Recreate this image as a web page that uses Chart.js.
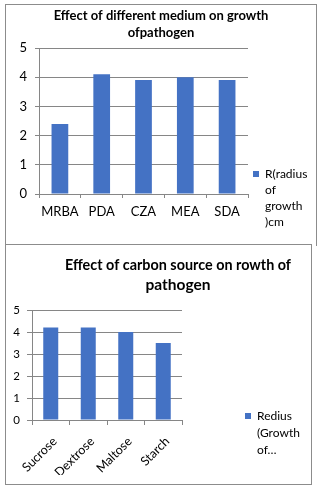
<!DOCTYPE html>
<html>
<head>
<meta charset="utf-8">
<script src="https://cdn.jsdelivr.net/npm/chart.js@4/dist/chart.umd.min.js"></script>
<style>
  html, body { margin: 0; padding: 0; background: #fff; }
  body { position: relative; width: 325px; height: 489px; overflow: hidden; }
  .frame { position: absolute; border: 1px solid #8c8c8c; box-sizing: border-box; }
  canvas { position: absolute; }
</style>
</head>
<body>
<div class="frame" style="left:5px;top:4px;width:312px;height:242px;border-bottom:none;"></div>
<div class="frame" style="left:5px;top:244px;width:307px;height:241px;"></div>
<canvas id="medium" width="310" height="239" style="left:6px;top:5px;"></canvas>
<canvas id="carbon" width="310" height="238" style="left:6px;top:245px;"></canvas>
<script>
// Growth radius of the pathogen on different culture media
const mediumCategories = ['MRBA', 'PDA', 'CZA', 'MEA', 'SDA'];
const mediumRadius = [2.4, 4.1, 3.9, 4.0, 3.9];
const mediumLegend = ['R(radius', 'of', 'growth', ')cm'];
const mediumTitle = ['Effect of different medium on growth', 'ofpathogen'];

// Growth radius of the pathogen with different carbon sources
const carbonCategories = ['Sucrose', 'Dextrose', 'Maltose', 'Starch'];
const carbonRadius = [4.2, 4.2, 4.0, 3.5];
const carbonLegend = ['Redius', '(Growth', 'of…'];
const carbonTitle = ['Effect of carbon source on rowth of', 'pathogen'];

// Shared value axis ticks
const yTickValues = [0, 1, 2, 3, 4, 5];

const BAR = '#4472c4';
const GRID = '#868686';
const INK = '#000000';
const FONT = 'Lato';

// Nudges the title and pins the legend next to the plot area after layout
const placeBlocks = {
  id: 'placeBlocks',
  afterLayout(chart, args, opts) {
    const area = chart.chartArea;
    const t = chart.titleBlock;
    if (t && opts.titleDx) { t.left += opts.titleDx; t.right += opts.titleDx; }
    const lg = chart.legend;
    if (lg) {
      lg.left = area.right + (opts.legendGap || 0);
      lg.right = chart.width;
      lg.bottom = area.bottom + (opts.legendDrop || 0);
    }
  }
};

function legendFrom(lines) {
  return chart => {
    const items = Chart.defaults.plugins.legend.labels.generateLabels(chart);
    items.forEach(it => { it.text = lines; it.lineWidth = 0; });
    return items;
  };
}

function barChart(id, cfg) {
  return new Chart(document.getElementById(id), {
    type: 'bar',
    data: {
      labels: cfg.categories,
      datasets: [{
        label: cfg.legend.join(' '),
        data: cfg.values,
        backgroundColor: BAR,
        borderWidth: 0,
        barPercentage: 0.4,
        categoryPercentage: 1.0
      }]
    },
    plugins: [placeBlocks],
    options: {
      responsive: false,
      animation: false,
      events: [],
      layout: { padding: cfg.padding },
      plugins: {
        placeBlocks: { titleDx: cfg.titleDx, legendGap: cfg.legendGap, legendDrop: cfg.legendDrop },
        tooltip: { enabled: false },
        title: {
          display: true,
          text: cfg.title,
          color: INK,
          font: { family: FONT, size: cfg.titleSize, weight: 'bold', lineHeight: cfg.titleLine },
          padding: cfg.titlePad
        },
        legend: {
          position: 'right',
          align: 'end',
          fullSize: true,
          maxWidth: cfg.legendWidth,
          labels: {
            boxWidth: cfg.box,
            boxHeight: cfg.box,
            padding: 0,
            color: INK,
            font: { family: FONT, size: 12, lineHeight: cfg.legendLine },
            generateLabels: legendFrom(cfg.legend)
          }
        }
      },
      scales: {
        x: {
          offset: true,
          grid: { display: true, drawOnChartArea: false, drawTicks: true, tickLength: cfg.tick, color: GRID, offset: true },
          border: { display: true, color: GRID, width: 1 },
          ticks: {
            color: INK,
            font: { family: FONT, size: cfg.xFont },
            padding: cfg.xPad,
            labelOffset: cfg.xShift || 0,
            autoSkip: false,
            minRotation: cfg.rotation,
            maxRotation: cfg.rotation
          },
          afterFit(scale) { scale.height = cfg.xHeight; }
        },
        y: {
          min: 0,
          max: 5,
          grid: { color: GRID, tickLength: cfg.tick, lineWidth: 1 },
          border: { display: true, color: GRID, width: 1 },
          afterBuildTicks(scale) { scale.ticks = yTickValues.map(v => ({ value: v })); },
          ticks: { color: INK, font: { family: FONT, size: cfg.yFont }, padding: cfg.yPad },
          afterFit(scale) { scale.width = cfg.yWidth; }
        }
      }
    }
  });
}

barChart('medium', {
  categories: mediumCategories,
  values: mediumRadius,
  legend: mediumLegend,
  title: mediumTitle,
  titleSize: 13,
  titleLine: '17px',
  titlePad: { top: 2.5, bottom: 6.5 },
  titleDx: 4,
  padding: { top: 0, left: 0, right: 8, bottom: 12 },
  legendWidth: 60,
  legendGap: 5,
  legendDrop: 38,
  legendLine: '16px',
  box: 6,
  tick: 4,
  xFont: 13,
  xPad: 6,
  rotation: 0,
  xHeight: 38,
  yFont: 13,
  yPad: 8,
  yWidth: 33
});

barChart('carbon', {
  categories: carbonCategories,
  values: carbonRadius,
  legend: carbonLegend,
  title: carbonTitle,
  titleSize: 15.5,
  titleLine: '20px',
  titlePad: { top: 10, bottom: 15 },
  titleDx: 59,
  padding: { top: 0, left: 0, right: 84, bottom: 8 },
  legendWidth: 50,
  legendGap: 63,
  legendDrop: 41,
  legendLine: '17px',
  box: 6,
  tick: 5,
  xFont: 12.5,
  xPad: 9,
  xShift: 4,
  rotation: 45,
  xHeight: 55,
  yFont: 11.5,
  yPad: 7,
  yWidth: 26
});
</script>
</body>
</html>
